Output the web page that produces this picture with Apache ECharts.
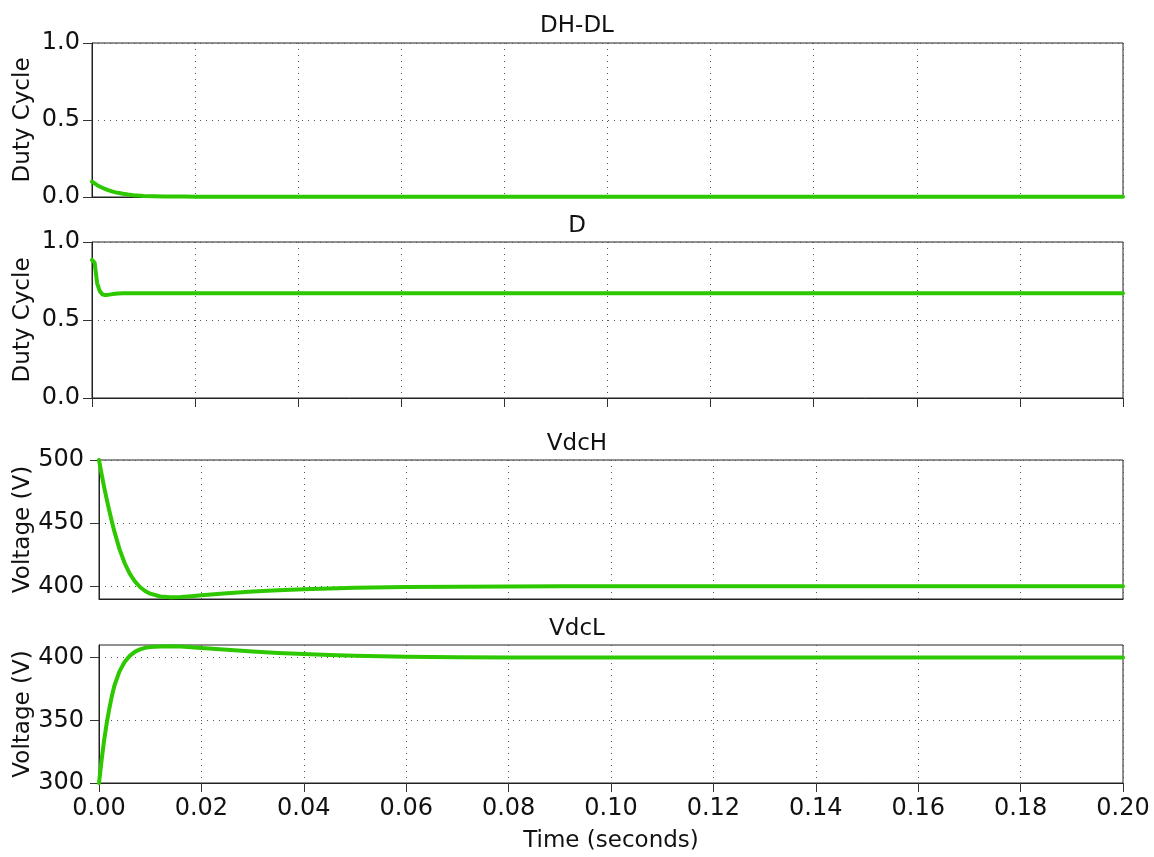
<!DOCTYPE html>
<html>
<head>
<meta charset="utf-8">
<script src="https://cdn.jsdelivr.net/npm/echarts@6/dist/echarts.min.js"></script>
<style>html,body{margin:0;padding:0;background:#fff;}#main{width:1154px;height:857px;}</style>
</head>
<body>
<div id="main"></div>
<script>
const timeS = [0, 0.0005, 0.001, 0.0015, 0.002, 0.0025, 0.003, 0.004, 0.005, 0.006, 0.007, 0.008, 0.009, 0.010, 0.012, 0.014, 0.016, 0.018, 0.020, 0.025, 0.030, 0.035, 0.040, 0.045, 0.050, 0.060, 0.070, 0.080, 0.090, 0.100, 0.120, 0.140, 0.160, 0.180, 0.200];
const dhdl = [0.100, 0.088, 0.077, 0.068, 0.060, 0.053, 0.046, 0.035, 0.027, 0.021, 0.016, 0.012, 0.009, 0.007, 0.005, 0.004, 0.003, 0.003, 0.002, 0.002, 0.002, 0.002, 0.002, 0.002, 0.002, 0.002, 0.002, 0.002, 0.002, 0.002, 0.002, 0.002, 0.002, 0.002, 0.002];
const duty = [0.885, 0.868, 0.735, 0.685, 0.665, 0.660, 0.661, 0.666, 0.670, 0.672, 0.672, 0.672, 0.672, 0.672, 0.672, 0.672, 0.672, 0.672, 0.672, 0.672, 0.672, 0.672, 0.672, 0.672, 0.672, 0.672, 0.672, 0.672, 0.672, 0.672, 0.672, 0.672, 0.672, 0.672, 0.672];
const vdcH = [500, 489, 478.5, 469, 460, 451.5, 443.5, 429.5, 418.5, 410, 404, 399.5, 396.3, 394.2, 392, 391.3, 391.5, 392.2, 393, 394.6, 396, 397, 397.8, 398.4, 398.9, 399.4, 399.7, 399.9, 400, 400, 400, 400, 400, 400, 400];
const vdcL = [300, 318, 334, 347.5, 359, 369, 377.5, 389, 396.5, 401.3, 404.5, 406.5, 407.7, 408.4, 408.9, 409, 408.8, 408.3, 407.7, 406.2, 404.8, 403.7, 402.8, 402, 401.4, 400.6, 400.2, 400, 400, 400, 400, 400, 400, 400, 400];
const titles = ['DH-DL', 'D', 'VdcH', 'VdcL'];
const yNames = ['Duty Cycle', 'Duty Cycle', 'Voltage (V)', 'Voltage (V)'];
const yTicks = [[0, 0.5, 1.0], [0, 0.5, 1.0], [400, 450, 500], [300, 350, 400]];
const yRanges = [[0, 1], [0, 1], [390, 500], [300, 410]];
const xName = 'Time (seconds)';

const FONT = 'DejaVu Sans';
const TXT = '#111';
const grids = [
  {left: 92, right: 31, top: 43, height: 154},
  {left: 92, right: 31, top: 242, height: 156},
  {left: 99, right: 31, top: 460, height: 139},
  {left: 99, right: 31, top: 645, height: 138}
];
const titleTops = [15, 215, 433, 618];
const gridDash = {color: '#555', width: 1, type: [1, 5]};
const series = [dhdl, duty, vdcH, vdcL];

const option = {
  backgroundColor: '#fff',
  animation: false,
  title: titles.map((t, i) => ({
    text: t, left: 'center', top: titleTops[i], padding: 0,
    textStyle: {fontFamily: FONT, fontSize: 23, fontWeight: 'normal', color: TXT}
  })),
  grid: grids.map(g => Object.assign({show: true, borderColor: '#222', borderWidth: 1, containLabel: false, outerBoundsMode: 'none'}, g)),
  xAxis: grids.map((g, i) => ({
    type: 'value', gridIndex: i, min: 0, max: 0.2, interval: 0.02,
    name: i === 3 ? xName : '', nameLocation: 'middle', nameGap: 47, nameMoveOverlap: false,
    nameTextStyle: {fontFamily: FONT, fontSize: 23, color: TXT},
    axisLine: {show: true, lineStyle: {color: '#222', width: 1}},
    axisTick: {show: i === 1 || i === 3, length: 9, lineStyle: {color: '#333'}},
    axisLabel: {show: i === 3, fontFamily: FONT, fontSize: 24, color: TXT, margin: 14,
      formatter: v => v.toFixed(2)},
    splitLine: {show: true, lineStyle: gridDash}
  })),
  yAxis: grids.map((g, i) => ({
    type: 'value', gridIndex: i, min: yRanges[i][0], max: yRanges[i][1],
    name: yNames[i], nameLocation: 'middle', nameGap: i < 2 ? 57 : 64, nameRotate: 90,
    nameMoveOverlap: false,
    nameTextStyle: {fontFamily: FONT, fontSize: 23, color: TXT},
    axisLine: {show: true, lineStyle: {color: '#222', width: 1}},
    axisTick: {show: true, length: 9, lineStyle: {color: '#333'}, customValues: yTicks[i]},
    axisLabel: {show: true, fontFamily: FONT, fontSize: 24, color: TXT, margin: i < 2 ? 12 : 15,
      customValues: yTicks[i],
      formatter: v => i < 2 ? v.toFixed(1) : String(Math.round(v))},
    splitLine: {show: true, lineStyle: gridDash}
  })),
  series: series.map((arr, i) => ({
    type: 'line', xAxisIndex: i, yAxisIndex: i,
    data: timeS.map((t, k) => [t, arr[k]]),
    showSymbol: false, smooth: false,
    lineStyle: {color: '#2ec800', width: 4, join: 'round', cap: 'round'},
    clip: true
  }))
};
const chart = echarts.init(document.getElementById('main'), null, {renderer: 'canvas'});
chart.setOption(option);
</script>
</body>
</html>
